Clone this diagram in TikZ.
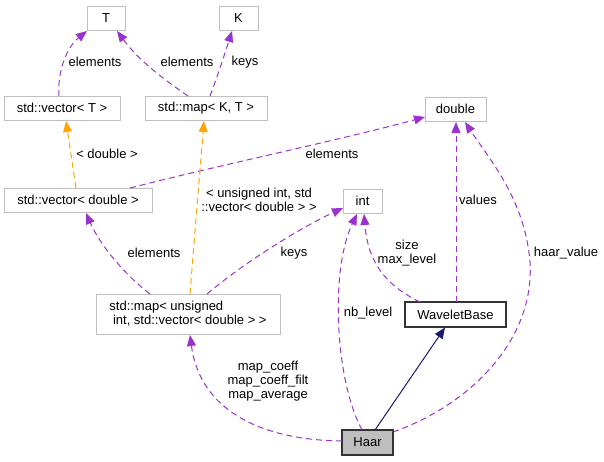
\documentclass[tikz,border=0pt]{standalone}
\usepackage{fontspec}
\setmainfont{Liberation Sans}
\usetikzlibrary{arrows.meta}
\definecolor{edgep}{HTML}{9A32CD}
\definecolor{edgeo}{HTML}{FFA500}
\definecolor{edgen}{HTML}{191970}
\definecolor{boxg}{HTML}{BFBFBF}
\tikzset{
  cls/.style={draw=boxg, line width=1pt, fill=white, inner sep=0pt, font=\fontsize{13}{14}\selectfont},
  clsb/.style={draw=black!80, line width=1.2pt, fill=white, inner sep=0pt, font=\fontsize{13}{14}\selectfont},
  lbl/.style={font=\fontsize{13}{14}\selectfont, inner sep=0pt, align=center},
  usep/.style={draw=edgep, dash pattern=on 6pt off 4pt, line width=1pt, -{Triangle[length=11pt,width=9pt]}},
  useo/.style={draw=edgeo, dash pattern=on 6pt off 4pt, line width=1pt, -{Triangle[length=11pt,width=9pt]}},
  inh/.style={draw=edgen, line width=1pt, -{Triangle[length=11pt,width=9pt]}},
}
\begin{document}
\begin{tikzpicture}[x=1pt,y=-1pt]
\useasboundingbox (0,0) rectangle (604,461);
% nodes
\node[cls, minimum width=38pt, minimum height=24pt] (T) at (106,18) {T};
\node[cls, minimum width=39pt, minimum height=24pt] (K) at (238.5,18) {K};
\node[cls, minimum width=116pt, minimum height=24pt] (vT) at (62,108) {std::vector< T >};
\node[cls, minimum width=122pt, minimum height=24pt] (mKT) at (206,108) {std::map< K, T >};
\node[cls, minimum width=61pt, minimum height=24pt] (dbl) at (455.5,109) {double};
\node[cls, minimum width=148pt, minimum height=24pt] (vd) at (78,200) {std::vector< double >};
\node[cls, minimum width=39pt, minimum height=24pt] (int) at (362.5,201) {int};
\node[cls, minimum width=184pt, minimum height=40pt, align=left] (mu) at (188,314) {std::map< unsigned\\\ int, std::vector< double > >};
\node[clsb, minimum width=101pt, minimum height=25pt] (wb) at (455.5,314.5) {WaveletBase};
\node[clsb, fill=boxg, minimum width=51pt, minimum height=25pt] (haar) at (367.5,442.5) {Haar};
% coordinates on borders
\coordinate (vTt) at (59,96);
\coordinate (mKTa) at (188,96);
\coordinate (mKTb) at (210,96);
\coordinate (vdt) at (76,188);
\coordinate (vdr) at (130,188);
\coordinate (mua) at (150,294);
\coordinate (mub) at (190,294);
\coordinate (muc) at (207,294);
\coordinate (wba) at (420,302);
\coordinate (wbt) at (456,302);
\coordinate (dblb) at (456,122);
\coordinate (haarl) at (342,441);
\coordinate (haart) at (362,430);
\coordinate (haarr) at (393,432);
\coordinate (haarm) at (375,430);
\coordinate (hv) at (530,262);
% edges
\draw[usep] (vTt) .. controls (57,70) and (68,46) .. (87,31);
\node[lbl] (l1) at (95,62) {elements};
\draw[usep] (mKTa) .. controls (165,80) and (140,62) .. (117,31);
\node[lbl] (l2) at (187,62) {elements};
\draw[usep] (mKTb) .. controls (217,78) and (226,50) .. (232,31);
\node[lbl] (l3) at (245,62) {keys};
\draw[useo] (vdt) -- (66,121);
\node[lbl] (l4) at (107,154) {< double >};
\draw[usep] (vdr) .. controls (220,165) and (340,140) .. (425,117);
\node[lbl] (l5) at (332,154) {elements};
\draw[useo] (mub) .. controls (195,230) and (200,170) .. (204,121);
\node[lbl] (l6) at (259,199.5) {< unsigned int, std\\::vector< double > >};
\draw[usep] (mua) .. controls (125,275) and (100,245) .. (86,213);
\node[lbl] (l7) at (154,253) {elements};
\draw[usep] (muc) .. controls (245,262) and (300,228) .. (343,208);
\node[lbl] (l8) at (294,253) {keys};
\draw[usep] (haarl) .. controls (260,440) and (200,410) .. (190,335);
\node[lbl] (l9) at (268,381) {map\_coeff\\map\_coeff\_filt\\map\_average};
\draw[usep] (haart) .. controls (335,380) and (330,270) .. (357,214);
\node[lbl] (l10) at (368,313) {nb\_level};
\draw[usep] (wba) .. controls (385,285) and (368,262) .. (364,214);
\node[lbl] (l11) at (407,253.5) {size\\max\_level};
\draw[usep] (wbt) -- (dblb);
\node[lbl] (l12) at (478,200) {values};
\draw[usep] (haarr) .. controls (470,405) and (535,340) .. (hv) .. controls (525,200) and (490,160) .. (465,122);
\node[lbl] (l13) at (566,253) {haar\_value};
\draw[inh] (haarm) -- (445,327.5);
\end{tikzpicture}
\end{document}
